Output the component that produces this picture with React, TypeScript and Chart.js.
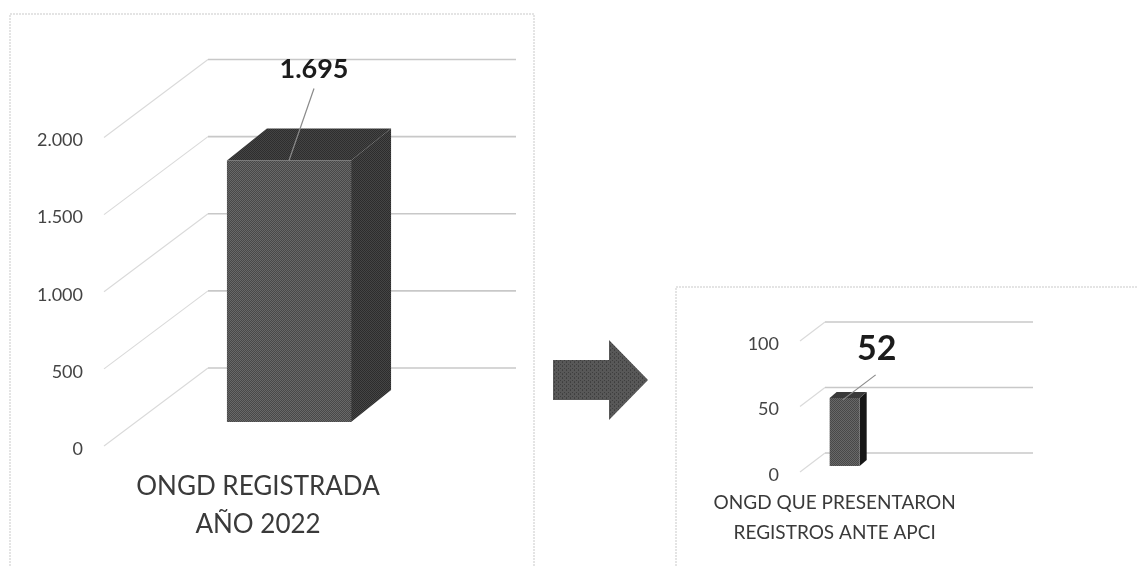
import React, { useEffect, useRef } from "react";
import { Chart, registerables } from "chart.js";

Chart.register(...registerables);

const leftCategories = [["ONGD REGISTRADA", "AÑO 2022"]];
const leftValues = [1695];
const leftTicks = { max: 2000, step: 500 };

const rightCategories = [["ONGD QUE PRESENTARON", "REGISTROS ANTE APCI"], "", ""];
const rightValues: (number | null)[] = [52, null, null];
const rightTicks = { max: 100, step: 50 };

const FONT = "Lato, 'Noto Sans', sans-serif";
const fmt = (v: number) => String(v).replace(/\B(?=(\d{3})+$)/g, ".");

function speckle(light: string, dark: string) {
  const c = document.createElement("canvas");
  c.width = 4;
  c.height = 4;
  const g = c.getContext("2d")!;
  g.fillStyle = light;
  g.fillRect(0, 0, 4, 4);
  g.fillStyle = dark;
  [[0, 0], [2, 0], [1, 1], [3, 1], [0, 2], [2, 2], [1, 3], [3, 3]].forEach(([x, y]) => g.fillRect(x, y, 1, 1));
  return g.createPattern(c, "repeat")!;
}

const depth3d = {
  id: "depth3d",
  beforeDatasetsDraw(chart: any, _a: any, o: any) {
    const { ctx, chartArea: a, scales } = chart;
    ctx.save();
    scales.y.ticks.forEach((t: any) => {
      const y = scales.y.getPixelForValue(t.value);
      ctx.lineWidth = 1.2;
      ctx.strokeStyle = o.wallColor;
      ctx.beginPath();
      ctx.moveTo(a.left, y);
      ctx.lineTo(a.left + o.wallDx, y + o.wallDy);
      ctx.stroke();
      ctx.lineWidth = o.gridWidth;
      ctx.strokeStyle = o.gridColor;
      ctx.beginPath();
      ctx.moveTo(a.left + o.wallDx, y + o.wallDy);
      ctx.lineTo(a.right + o.wallDx, y + o.wallDy);
      ctx.stroke();
    });
    const bar = chart.getDatasetMeta(0).data[0];
    const { x, y, base, width } = bar.getProps(["x", "y", "base", "width"], true);
    const l = x - width / 2 + o.barDx;
    const r = x + width / 2 + o.barDx;
    const t = y + o.barDy;
    const b = base + o.barDy;
    ctx.fillStyle = o.sideFill;
    ctx.beginPath();
    ctx.moveTo(r, t);
    ctx.lineTo(r + o.depthDx, t + o.depthDy);
    ctx.lineTo(r + o.depthDx, b + o.depthDy);
    ctx.lineTo(r, b);
    ctx.closePath();
    ctx.fill();
    ctx.fillStyle = o.topFill;
    ctx.beginPath();
    ctx.moveTo(l, t);
    ctx.lineTo(l + o.depthDx, t + o.depthDy);
    ctx.lineTo(r + o.depthDx, t + o.depthDy);
    ctx.lineTo(r, t);
    ctx.closePath();
    ctx.fill();
    ctx.restore();
    ctx.save();
    ctx.translate(o.barDx, o.barDy);
  },
  afterDatasetsDraw(chart: any, _a: any, o: any) {
    const { ctx } = chart;
    ctx.restore();
    const bar = chart.getDatasetMeta(0).data[0];
    const { x, y } = bar.getProps(["x", "y"], true);
    const px = x + o.barDx;
    const py = y + o.barDy;
    ctx.save();
    ctx.strokeStyle = "#8a8a8a";
    ctx.lineWidth = 1.2;
    ctx.beginPath();
    ctx.moveTo(px + o.leaderFrom[0], py + o.leaderFrom[1]);
    ctx.lineTo(px + o.leaderTo[0], py + o.leaderTo[1]);
    ctx.stroke();
    ctx.fillStyle = "#1c1c1c";
    ctx.font = `bold ${o.labelSize}px ${FONT}`;
    ctx.textAlign = "center";
    ctx.textBaseline = "middle";
    ctx.fillText(fmt(chart.data.datasets[0].data[0]), px + o.labelAt[0], py + o.labelAt[1]);
    ctx.restore();
  },
};

function makeChart(canvas: HTMLCanvasElement, cfg: any) {
  return new Chart(canvas, {
    type: "bar",
    data: {
      labels: cfg.labels,
      datasets: [
        {
          data: cfg.values,
          backgroundColor: speckle("#686868", "#484848"),
          barPercentage: cfg.barPct,
          categoryPercentage: 1,
          clip: false,
        } as any,
      ],
    },
    plugins: [depth3d],
    options: {
      animation: false,
      responsive: false,
      events: [],
      layout: { padding: cfg.padding },
      plugins: {
        legend: { display: false },
        title: { display: false },
        tooltip: { enabled: false },
        depth3d: cfg.depth,
      } as any,
      scales: {
        x: {
          grid: { display: false, drawTicks: false },
          border: { display: false },
          afterFit: (s: any) => {
            s.height = cfg.xHeight;
          },
          ticks: {
            autoSkip: false,
            maxRotation: 0,
            minRotation: 0,
            padding: cfg.xPad,
            color: "#3a3a3a",
            font: { family: FONT, size: cfg.xSize, lineHeight: cfg.xLine },
          },
        },
        y: {
          min: 0,
          max: cfg.ticks.max,
          grid: { display: false, drawTicks: false },
          border: { display: false },
          afterFit: (s: any) => {
            s.width = cfg.yWidth;
          },
          ticks: {
            stepSize: cfg.ticks.step,
            padding: 21,
            color: "#444444",
            font: { family: FONT, size: 18, lineHeight: "6px" },
            callback: (v: any) => ["", fmt(Number(v))],
          },
        },
      },
    } as any,
  });
}

export default function App() {
  const a = useRef<HTMLCanvasElement>(null);
  const b = useRef<HTMLCanvasElement>(null);
  useEffect(() => {
    const c1 = makeChart(a.current!, {
      labels: leftCategories,
      values: leftValues,
      ticks: leftTicks,
      barPct: 0.403,
      padding: { left: 0, right: 128, top: 137.5, bottom: 0 },
      xHeight: 120,
      xPad: 22,
      xSize: 26,
      xLine: 1.46,
      yWidth: 104,
      depth: {
        gridColor: "#c8c8c8",
        wallColor: "#dadada",
        gridWidth: 1.6,
        wallDx: 104,
        wallDy: -78,
        barDx: 31,
        barDy: -24,
        depthDx: 40,
        depthDy: -32,
        sideFill: speckle("#454545", "#2c2c2c"),
        topFill: speckle("#444444", "#2e2e2e"),
        labelSize: 27,
        labelAt: [25, -91],
        leaderFrom: [0, 0],
        leaderTo: [25, -72],
      },
    });
    const c2 = makeChart(b.current!, {
      labels: rightCategories,
      values: rightValues,
      ticks: rightTicks,
      barPct: 0.433,
      padding: { left: 0, right: 129, top: 341, bottom: 0 },
      xHeight: 94,
      xPad: 16,
      xSize: 19,
      xLine: 1.58,
      yWidth: 160,
      depth: {
        gridColor: "#c8c8c8",
        wallColor: "#dadada",
        gridWidth: 1.3,
        wallDx: 25,
        wallDy: -19,
        barDx: 10,
        barDy: -6,
        depthDx: 7,
        depthDy: -6,
        sideFill: "#161616",
        topFill: "#3a3a3a",
        labelSize: 34,
        labelAt: [32, -49],
        leaderFrom: [-2, 2],
        leaderTo: [31, -23],
      },
    });
    return () => {
      c1.destroy();
      c2.destroy();
    };
  }, []);
  return (
    <div style={{ position: "absolute", left: 0, top: 0, width: 1137, height: 566, overflow: "hidden", background: "#fff" }}>
      <svg width={1137} height={566} style={{ position: "absolute", left: 0, top: 0 }}>
        <defs>
          <pattern id="sp" width={4} height={4} patternUnits="userSpaceOnUse">
            <rect width={4} height={4} fill="#585858" />
            <rect width={1} height={1} fill="#3e3e3e" />
            <rect x={2} y={2} width={1} height={1} fill="#3e3e3e" />
            <rect x={2} y={1} width={1} height={1} fill="#444" />
          </pattern>
        </defs>
        <g stroke="#dcdcdc" strokeWidth={1.5} strokeDasharray="2 1" fill="none">
          <path d="M10 566V14H534V566" />
          <path d="M676 566V287H1137" />
        </g>
        <polygon points="553,360 609,360 609,340 648,380 609,420 609,400 553,400" fill="url(#sp)" />
      </svg>
      <canvas ref={a} width={540} height={566} style={{ position: "absolute", left: 0, top: 0 }} />
      <canvas ref={b} width={497} height={566} style={{ position: "absolute", left: 640, top: 0 }} />
    </div>
  );
}
